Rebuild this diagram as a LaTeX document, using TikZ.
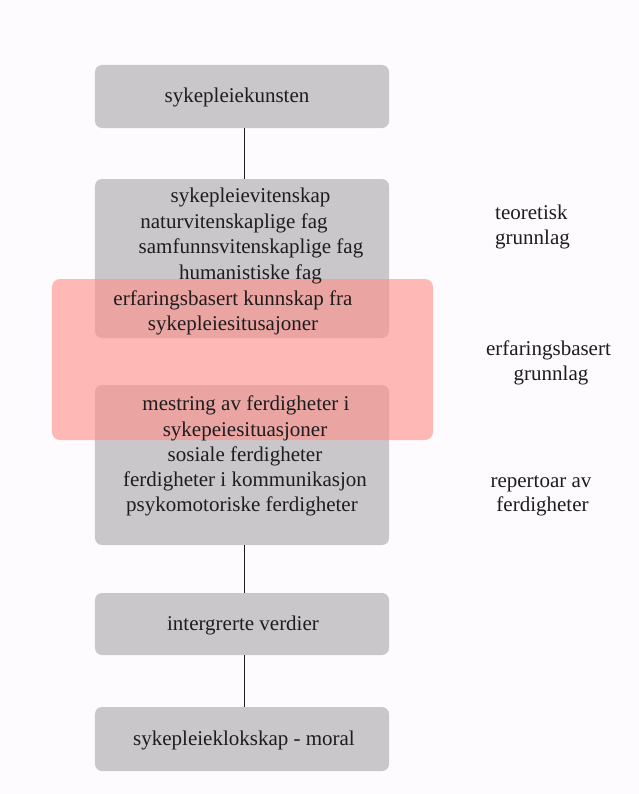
\documentclass[tikz,border=0pt]{standalone}
\usepackage{fontspec}
\setmainfont{Liberation Serif}
\definecolor{boxgray}{RGB}{202,199,202}
\definecolor{pinkfill}{RGB}{255,145,140}
\definecolor{bgwhite}{RGB}{253,251,253}
\definecolor{inkcol}{RGB}{30,28,30}
\begin{document}
\begin{tikzpicture}[x=1bp,y=-1bp,
  graybox/.style={rectangle,rounded corners=7bp,fill=boxgray,draw=none,minimum width=294bp,inner sep=0pt},
  pinkbox/.style={rectangle,rounded corners=8bp,fill=pinkfill,fill opacity=0.62,draw=none,minimum width=381bp,minimum height=161bp,inner sep=0pt},
  txt/.style={anchor=mid,inner sep=0pt,yshift=-4bp,text=inkcol,font=\fontsize{21bp}{25bp}\selectfont},
  conn/.style={draw=inkcol,line width=0.9bp}]
\fill[bgwhite] (0,0) rectangle (639,794);
\useasboundingbox (0,0) rectangle (639,794);
% gray boxes
\node[graybox,minimum height=63bp] (b1) at (242,96.5) {};
\node[graybox,minimum height=159bp] (b2) at (242,258.5) {};
\node[graybox,minimum height=160bp] (b3) at (242,465) {};
\node[graybox,minimum height=62bp] (b4) at (242,624) {};
\node[graybox,minimum height=64bp] (b5) at (242,739) {};
% pink overlay
\node[pinkbox] (pk) at (242.5,359.5) {};
% connectors
\draw[conn] ([xshift=2bp]b1.south) -- ([xshift=2bp]b2.north);
\draw[conn] ([xshift=2bp]b3.south) -- ([xshift=2bp]b4.north);
\draw[conn] ([xshift=2bp]b4.south) -- ([xshift=2bp]b5.north);
% texts
\node[txt] (t1) at (237,96) {sykepleiekunsten};
\node[txt] (t2a) at (250.5,196) {sykepleievitenskap};
\node[txt] (t2b) at (234,222) {naturvitenskaplige fag};
\node[txt] (t2c) at (251,247) {samfunnsvitenskaplige fag};
\node[txt] (t2d) at (250.5,273) {humanistiske fag};
\node[txt] (t2e) at (233,299) {erfaringsbasert kunnskap fra};
\node[txt] (t2f) at (233,324) {sykepleiesitusajoner};
\node[txt] (t3a) at (246,404) {mestring av ferdigheter i};
\node[txt] (t3b) at (245,430) {sykepeiesituasjoner};
\node[txt] (t3c) at (245,455) {sosiale ferdigheter};
\node[txt] (t3d) at (245,480) {ferdigheter i kommunikasjon};
\node[txt] (t3e) at (242,505) {psykomotoriske ferdigheter};
\node[txt] (t4) at (243,624) {intergrerte verdier};
\node[txt] (t5) at (244,739) {sykepleieklokskap - moral};
% right labels
\node[txt,anchor=base west] (r1a) at (495,215) {teoretisk};
\node[txt,anchor=base west] (r1b) at (495,240.5) {grunnlag};
\node[txt] (r2a) at (548.5,349) {erfaringsbasert};
\node[txt] (r2b) at (551,374) {grunnlag};
\node[txt] (r3a) at (541,481) {repertoar av};
\node[txt] (r3b) at (542.5,505) {ferdigheter};
\end{tikzpicture}
\end{document}
